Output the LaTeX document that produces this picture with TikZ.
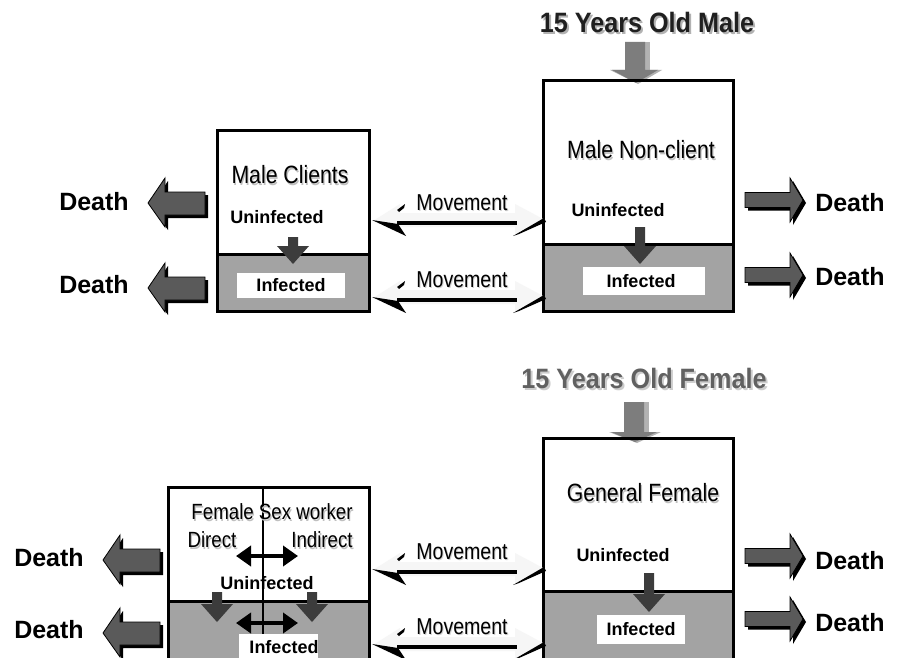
\documentclass[tikz,border=0pt]{standalone}
\usepackage{fontspec}
\setmainfont{Liberation Sans}
\newfontfamily\narrowfont[FakeStretch=0.85]{Liberation Sans}
\newfontfamily\titlefont[FakeStretch=0.9]{Liberation Sans}
\usetikzlibrary{arrows.meta}
\definecolor{boxgray}{RGB}{163,163,163}
\definecolor{darkarrow}{RGB}{60,60,60}
\definecolor{deathgray}{RGB}{90,90,90}
\definecolor{entrygray}{RGB}{125,125,125}
\definecolor{entryshadow}{RGB}{178,178,178}
\definecolor{movefill}{RGB}{246,246,246}
\tikzset{
  boxline/.style={draw=black, line width=3bp},
  infbox/.style={fill=white},
  lbl/.style={inner sep=0pt, font=\narrowfont\fontsize{25bp}{30bp}\selectfont},
  smalllbl/.style={inner sep=0pt, font=\narrowfont\fontsize{22bp}{26bp}\selectfont},
  movelbl/.style={inner sep=0pt, font=\narrowfont\fontsize{23bp}{27bp}\selectfont},
  statelbl/.style={inner sep=0pt, font=\bfseries\fontsize{18bp}{21bp}\selectfont},
  deathlbl/.style={inner sep=0pt, font=\bfseries\fontsize{25bp}{30bp}\selectfont},
  titlelbl/.style={inner sep=0pt, font=\titlefont\bfseries\fontsize{28bp}{32bp}\selectfont},
  deathshape/.style={fill=deathgray, draw=black, line width=0.8bp},
  dblarrow/.style={line width=4bp, {Triangle[length=15bp,width=20bp]}-{Triangle[length=15bp,width=20bp]}},
}
% text with a soft drop shadow: colour, offset, text
\newcommand{\shadowtext}[3]{%
  \makebox[0pt][l]{\raisebox{-#2}[0pt][0pt]{\hspace{#2}\textcolor{#1}{#3}}}#3}
% left-pointing death arrow, tip at (#1,#2)
\newcommand{\deathLeft}[2]{%
  \begin{scope}[shift={(#1,#2)}]
    \fill[black] (3,3) -- (20,-22) -- (20,-8) -- (60,-8) -- (60,15) -- (20,15) -- (20,27) -- cycle;
    \path[deathshape] (0,0) -- (17,-25) -- (17,-11) -- (57,-11) -- (57,12) -- (17,12) -- (17,24) -- cycle;
  \end{scope}}
% right-pointing death arrow, tip at (#1,#2)
\newcommand{\deathRight}[2]{%
  \begin{scope}[shift={(#1,#2)}]
    \fill[black] (3,3) -- (-10,-19) -- (-10,-4.5) -- (-55,-4.5) -- (-55,10.5) -- (-10,10.5) -- (-10,25) -- cycle;
    \path[deathshape] (0,0) -- (-13,-22) -- (-13,-7.5) -- (-58,-7.5) -- (-58,7.5) -- (-13,7.5) -- (-13,22) -- cycle;
  \end{scope}}
% dark infection arrow: x, shaft top, tip
\newcommand{\infArrow}[3]{%
  \fill[darkarrow] (#1-5,#2) -- (#1+5,#2) -- (#1+5,#3-18) -- (#1+16,#3-18) -- (#1,#3) -- (#1-16,#3-18) -- (#1-5,#3-18) -- cycle;}
% gray entry arrow: x, top, head base, tip
\newcommand{\entryArrow}[4]{%
  \fill[entryshadow] (#1+8,#2) -- (#1+14,#2) -- (#1+14,#3) -- (#1+8,#3) -- cycle;
  \fill[entryshadow] (#1-26,#3) -- (#1+26,#3) -- (#1+2,#4+1) -- cycle;
  \fill[entrygray] (#1-11,#2) -- (#1+9,#2) -- (#1+9,#3) -- (#1+22,#3) -- (#1,#4) -- (#1-24,#3) -- (#1-11,#3) -- cycle;}
% movement double arrow, shaft at height #1
\newcommand{\moveArrow}[3]{%
  \begin{scope}[shift={(0,#1)}]
    \fill[movefill] (373,-2) -- (400,-19) -- (400,-10) -- (515,-10) -- (515,-19) -- (545,-3) -- (515,13) -- (515,4) -- (400,4) -- (405,13) -- cycle;
    \fill[black] (397,-2) rectangle (517,2);
    \fill[black] (372,-3) -- (406,13) -- (398,1) -- cycle;
    \fill[black] (397,-13) -- (405,-19) -- (404,-15) -- (399,-11) -- cycle;
    \fill[black] (513,13) -- (544,-5) -- (546,-1) -- (519,11) -- cycle;
    \node[movelbl] (#2) at (462,-20) {\shadowtext{gray!35}{1bp}{#3}};
  \end{scope}}
\begin{document}
\begin{tikzpicture}[x=1bp, y=-1bp]
\useasboundingbox (0,0) rectangle (902,658);
\clip (0,0) rectangle (902,658);
\fill[white] (0,0) rectangle (902,658);

% ---------- titles ----------
\node[titlelbl, text=black!88] (tm) at (647,22) {\shadowtext{gray!60}{2bp}{15 Years Old Male}};
\node[titlelbl, text=black!62] (tf) at (644,378) {\shadowtext{gray!40}{2bp}{15 Years Old Female}};

\entryArrow{636}{42}{70}{83}
\entryArrow{635}{402}{432}{442}

% ---------- Male Clients ----------
\fill[boxgray] (217,254) rectangle (369,311);
\draw[boxline] (217,131) rectangle (369,311);
\draw[boxline] (217,254) -- (369,254);
\node[lbl] (mc) at (290,175) {\shadowtext{gray!50}{1.2bp}{Male Clients}};
\node[statelbl] (mcU) at (277,217) {Uninfected};
\infArrow{293}{237}{264}
\fill[infbox] (237,273) rectangle (345,298);
\node[statelbl] (mcI) at (291,285) {Infected};

% ---------- Male Non-client ----------
\fill[boxgray] (543,244) rectangle (733,311);
\draw[boxline] (543,81) rectangle (733,311);
\draw[boxline] (543,244) -- (733,244);
\node[lbl] (mn) at (641,150) {\shadowtext{gray!50}{1.2bp}{Male Non-client}};
\node[statelbl] (mnU) at (618,210) {Uninfected};
\infArrow{640}{227}{264}
\fill[infbox] (583,267) rectangle (705,295);
\node[statelbl] (mnI) at (641,281) {Infected};

% ---------- Female Sex worker ----------
\fill[boxgray] (168,601) rectangle (369,690);
\draw[boxline] (168,487) rectangle (369,690);
\draw[boxline] (168,601) -- (369,601);
\draw[line width=1.6bp] (263,487) -- (263,690);
\node[smalllbl] (fsw) at (272,512) {\shadowtext{gray!50}{1.2bp}{Female Sex worker}};
\node[smalllbl] (fswD) at (212,540) {\shadowtext{gray!50}{1.2bp}{Direct}};
\node[smalllbl] (fswI) at (322,540) {\shadowtext{gray!50}{1.2bp}{Indirect}};
\draw[dblarrow] (236,556) -- (298,556);
\node[statelbl] (fswU) at (267,583) {Uninfected};
\infArrow{217}{592}{622}
\infArrow{312}{592}{622}
\draw[dblarrow] (236,623) -- (298,623);
\fill[infbox] (239,634) rectangle (318,670);
\node[statelbl] (fswIn) at (284,647) {Infected};

% ---------- General Female ----------
\fill[boxgray] (543,591) rectangle (733,690);
\draw[boxline] (543,438) rectangle (733,690);
\draw[boxline] (543,591) -- (733,591);
\node[lbl] (gf) at (643,493) {\shadowtext{gray!50}{1.2bp}{General Female}};
\node[statelbl] (gfU) at (623,555) {Uninfected};
\infArrow{649}{573}{612}
\fill[infbox] (597,615) rectangle (685,644);
\node[statelbl] (gfI) at (641,629) {Infected};

% ---------- Movement arrows ----------
\moveArrow{223}{mv1}{Movement}
\moveArrow{300}{mv2}{Movement}
\moveArrow{572}{mv3}{Movement}
\moveArrow{647}{mv4}{Movement}

% ---------- Death arrows ----------
\deathLeft{148}{203}
\deathLeft{148}{288}
\deathLeft{103}{560}
\deathLeft{103}{633}
\deathRight{803}{200}
\deathRight{803}{275}
\deathRight{803}{556}
\deathRight{803}{619}

\node[deathlbl] (d1) at (94,202) {Death};
\node[deathlbl] (d2) at (94,285) {Death};
\node[deathlbl] (d3) at (49,558) {Death};
\node[deathlbl] (d4) at (49,630) {Death};
\node[deathlbl] (d5) at (850,203) {Death};
\node[deathlbl] (d6) at (850,277) {Death};
\node[deathlbl] (d7) at (850,561) {Death};
\node[deathlbl] (d8) at (850,623) {Death};
\end{tikzpicture}
\end{document}
